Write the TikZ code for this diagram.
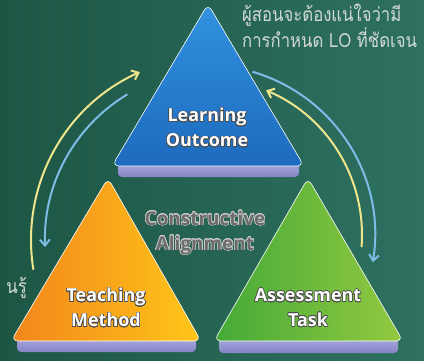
\documentclass[tikz,border=0pt]{standalone}
\usepackage{fontspec}
\usepackage{graphicx}
\setmainfont{Open Sans}
\newfontfamily\thaifont[Script=Thai]{Loma}
\usepackage[copies]{contour}
\contourlength{0.6pt}
\contournumber{16}
\usetikzlibrary{arrows.meta}
\definecolor{bgL}{HTML}{1D5645}
\definecolor{bgR}{HTML}{2E7161}
\definecolor{blueT}{HTML}{3192DE}
\definecolor{blueB}{HTML}{1D6ABE}
\definecolor{orL}{HTML}{F2861C}
\definecolor{orR}{HTML}{FFC619}
\definecolor{grL}{HTML}{44AA38}
\definecolor{grR}{HTML}{93C940}
\definecolor{shT}{HTML}{B4B4EA}
\definecolor{shB}{HTML}{8484C4}
\definecolor{arY}{HTML}{EFE58C}
\definecolor{arB}{HTML}{7DBCE6}
\definecolor{thaiC}{HTML}{D2D9D5}
\definecolor{caC}{HTML}{6C6C6C}
\newcommand\outl[1]{\contour{black!70}{#1}}
\newcommand\outg[1]{\contour{black!20}{#1}}
\newcommand\narrowth[1]{\scalebox{0.86}[1]{#1}}
\begin{document}
\begin{tikzpicture}[x=1bp,y=1bp,
  tri/.style={rounded corners=7bp, draw=white!70, line width=0.6bp},
  basestrip/.style={rounded corners=4bp, top color=shT, bottom color=shB},
  lbl/.style={font=\bfseries\fontsize{18}{25}\selectfont, text=white, align=center, inner sep=0pt},
  calbl/.style={font=\bfseries\fontsize{19}{25}\selectfont, text=caC, align=center, inner sep=0pt},
  thai/.style={font=\thaifont\fontsize{19.5}{24}\selectfont, text=thaiC, align=left, inner sep=0pt},
  yarr/.style={draw=arY, line width=2bp, -{Straight Barb[length=6bp,width=10bp]}},
  barr/.style={draw=arB, line width=2bp, -{Straight Barb[length=6bp,width=10bp]}}]
\useasboundingbox (0,0) rectangle (424,-361);
\shade[left color=bgL, right color=bgR] (0,0) rectangle (424,-361);

% coordinates
\coordinate (bA) at (208,-4);
\coordinate (bL) at (112,-166);
\coordinate (bR) at (304,-166);
\coordinate (oA) at (108,-178);
\coordinate (oL) at (11,-341);
\coordinate (oR) at (201,-341);
\coordinate (gA) at (308,-178);
\coordinate (gL) at (214,-341);
\coordinate (gR) at (403,-341);
\coordinate (cL) at (215,-240);
\coordinate (cR) at (205,-235);

% base strips
\shade[basestrip] (118,-158) rectangle (299,-177);
\shade[basestrip] (17,-333) rectangle (196,-352);
\shade[basestrip] (219,-333) rectangle (398,-353);

% triangles
\shade[tri, top color=blueT, bottom color=blueB] (bA) -- (bR) -- (bL) -- cycle;
\shade[tri, left color=orL, right color=orR] (oA) -- (oR) -- (oL) -- cycle;
\shade[tri, left color=grL, right color=grR] (gA) -- (gR) -- (gL) -- cycle;

% arrows
\draw[yarr] ([shift={(189.3:184)}]cL) arc[start angle=189.3, end angle=114.1, radius=184];
\draw[barr] ([shift={(121:170)}]cL) arc[start angle=121, end angle=182.4, radius=170];
\draw[barr] ([shift={(73.8:170)}]cR) arc[start angle=73.8, end angle=-9.2, radius=170];
\draw[yarr] ([shift={(-4.4:157)}]cR) arc[start angle=-4.4, end angle=67.1, radius=157];

% labels
\node[lbl] (lo) at (207,-128) {\outl{Learning}\\\outl{Outcome}};
\node[lbl] (tm) at (106,-308) {\outl{Teaching}\\\outl{Method}};
\node[lbl] (at) at (308,-308) {\outl{Assessment}\\\outl{Task}};
\node[calbl] (ca) at (205,-233) {\outg{Constructive}\\\outg{Alignment}};
\node[thai, anchor=north west] (tt) at (242,-4) {\narrowth{ผู้สอนจะต้องแน่ใจว่ามี}\\\narrowth{การกำหนด LO ที่ชัดเจน}};
\node[thai, anchor=base east] (lt) at (27,-293) {\narrowth{นรู้}};
\end{tikzpicture}
\end{document}
